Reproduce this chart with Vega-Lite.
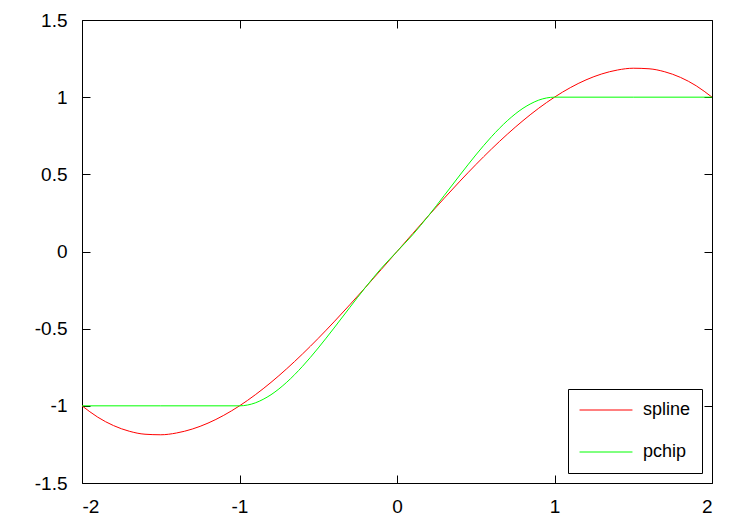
{
  "$schema": "https://vega.github.io/schema/vega-lite/v6.json",
  "width": 630,
  "height": 463,
  "autosize": "none",
  "padding": {"left": 82, "top": 20, "right": 38, "bottom": 42},
  "background": "white",
  "view": {"stroke": "black", "strokeWidth": 1},
  "config": {
    "axis": {"grid": false, "domain": false, "tickColor": "black", "tickSize": -8, "labelFont": "Liberation Sans", "labelFontSize": 19, "labelColor": "black", "title": null}
  },
  "data": {"values": [
    {"x": -2, "y": -1, "s": "spline"}, {"x": -1.9, "y": -1.0735, "s": "spline"}, {"x": -1.8, "y": -1.128, "s": "spline"}, {"x": -1.7, "y": -1.1645, "s": "spline"}, {"x": -1.6, "y": -1.184, "s": "spline"}, {"x": -1.5, "y": -1.1875, "s": "spline"}, {"x": -1.4, "y": -1.176, "s": "spline"}, {"x": -1.3, "y": -1.1505, "s": "spline"}, {"x": -1.2, "y": -1.112, "s": "spline"}, {"x": -1.1, "y": -1.0615, "s": "spline"}, {"x": -1, "y": -1, "s": "spline"}, {"x": -0.9, "y": -0.9285, "s": "spline"}, {"x": -0.8, "y": -0.848, "s": "spline"}, {"x": -0.7, "y": -0.7595, "s": "spline"}, {"x": -0.6, "y": -0.664, "s": "spline"}, {"x": -0.5, "y": -0.5625, "s": "spline"}, {"x": -0.4, "y": -0.456, "s": "spline"}, {"x": -0.3, "y": -0.3455, "s": "spline"}, {"x": -0.2, "y": -0.232, "s": "spline"}, {"x": -0.1, "y": -0.1165, "s": "spline"}, {"x": 0, "y": 0, "s": "spline"}, {"x": 0.1, "y": 0.1165, "s": "spline"}, {"x": 0.2, "y": 0.232, "s": "spline"}, {"x": 0.3, "y": 0.3455, "s": "spline"}, {"x": 0.4, "y": 0.456, "s": "spline"}, {"x": 0.5, "y": 0.5625, "s": "spline"}, {"x": 0.6, "y": 0.664, "s": "spline"}, {"x": 0.7, "y": 0.7595, "s": "spline"}, {"x": 0.8, "y": 0.848, "s": "spline"}, {"x": 0.9, "y": 0.9285, "s": "spline"}, {"x": 1, "y": 1, "s": "spline"}, {"x": 1.1, "y": 1.0615, "s": "spline"}, {"x": 1.2, "y": 1.112, "s": "spline"}, {"x": 1.3, "y": 1.1505, "s": "spline"}, {"x": 1.4, "y": 1.176, "s": "spline"}, {"x": 1.5, "y": 1.1875, "s": "spline"}, {"x": 1.6, "y": 1.184, "s": "spline"}, {"x": 1.7, "y": 1.1645, "s": "spline"}, {"x": 1.8, "y": 1.128, "s": "spline"}, {"x": 1.9, "y": 1.0735, "s": "spline"}, {"x": 2, "y": 1, "s": "spline"},
    {"x": -2, "y": -1, "s": "pchip"}, {"x": -1.5, "y": -1, "s": "pchip"}, {"x": -1, "y": -1, "s": "pchip"}, {"x": -0.95, "y": -0.995, "s": "pchip"}, {"x": -0.9, "y": -0.981, "s": "pchip"}, {"x": -0.85, "y": -0.9579, "s": "pchip"}, {"x": -0.8, "y": -0.928, "s": "pchip"}, {"x": -0.7, "y": -0.847, "s": "pchip"}, {"x": -0.6, "y": -0.744, "s": "pchip"}, {"x": -0.5, "y": -0.625, "s": "pchip"}, {"x": -0.4, "y": -0.496, "s": "pchip"}, {"x": -0.3, "y": -0.363, "s": "pchip"}, {"x": -0.2, "y": -0.232, "s": "pchip"}, {"x": -0.1, "y": -0.109, "s": "pchip"}, {"x": 0, "y": 0, "s": "pchip"}, {"x": 0.1, "y": 0.109, "s": "pchip"}, {"x": 0.2, "y": 0.232, "s": "pchip"}, {"x": 0.3, "y": 0.363, "s": "pchip"}, {"x": 0.4, "y": 0.496, "s": "pchip"}, {"x": 0.5, "y": 0.625, "s": "pchip"}, {"x": 0.6, "y": 0.744, "s": "pchip"}, {"x": 0.7, "y": 0.847, "s": "pchip"}, {"x": 0.8, "y": 0.928, "s": "pchip"}, {"x": 0.85, "y": 0.9579, "s": "pchip"}, {"x": 0.9, "y": 0.981, "s": "pchip"}, {"x": 0.95, "y": 0.995, "s": "pchip"}, {"x": 1, "y": 1, "s": "pchip"}, {"x": 1.5, "y": 1, "s": "pchip"}, {"x": 2, "y": 1, "s": "pchip"}
  ]},
  "layer": [
    {
      "mark": {"type": "line", "strokeWidth": 1, "interpolate": "monotone"},
      "encoding": {
        "x": {"field": "x", "type": "quantitative", "scale": {"domain": [-2, 2], "nice": false, "zero": false}, "axis": {"orient": "bottom", "values": [-2, -1, 0, 1, 2], "labelExpr": "'' + datum.value", "labelPadding": 22}},
        "y": {"field": "y", "type": "quantitative", "scale": {"domain": [-1.5, 1.5], "nice": false, "zero": false}, "axis": {"orient": "left", "values": [-1.5, -1, -0.5, 0, 0.5, 1, 1.5], "labelExpr": "'' + datum.value", "labelPadding": 23}},
        "color": {"field": "s", "type": "nominal", "sort": ["spline", "pchip"], "scale": {"domain": ["spline", "pchip"], "range": ["#ff0000", "#00ff00"]},
          "legend": {"title": null, "orient": "bottom-right", "offset": 10, "symbolType": "stroke", "symbolSize": 2800, "symbolStrokeWidth": 1, "labelFont": "Liberation Sans", "labelFontSize": 18, "labelColor": "black", "labelExpr": "datum.label + '\u00a0\u00a0'", "strokeColor": "black", "fillColor": "white", "padding": 11, "clipHeight": 20, "rowPadding": 22, "labelOffset": 10}}
      }
    },
    {
      "mark": {"type": "line", "strokeOpacity": 0},
      "encoding": {
        "x": {"field": "x", "type": "quantitative", "axis": {"orient": "top", "values": [-2, -1, 0, 1, 2], "labels": false}},
        "y": {"field": "y", "type": "quantitative", "axis": {"orient": "right", "values": [-1.5, -1, -0.5, 0, 0.5, 1, 1.5], "labels": false}},
        "detail": {"field": "s", "type": "nominal"}
      }
    }
  ],
  "resolve": {"axis": {"x": "independent", "y": "independent"}}
}
